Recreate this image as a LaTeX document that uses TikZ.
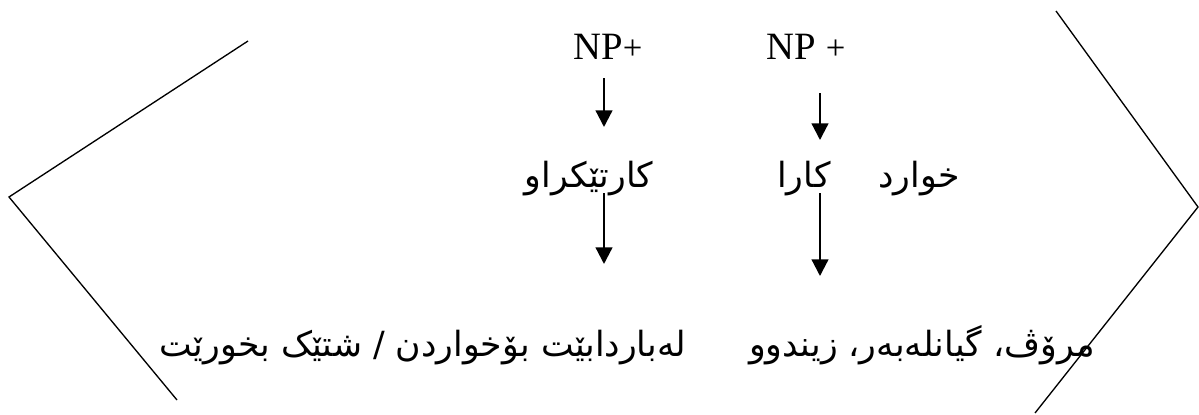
\documentclass[tikz,border=0pt]{standalone}
\usepackage{fontspec}
\setmainfont{Liberation Serif}
\newfontfamily\kurdFont[Script=Arabic]{DejaVu Sans}
\TeXXeTstate=1
\usetikzlibrary{arrows.meta}
\tikzstyle{pixelGrid} = [x = 0.75pt, y = -0.75pt]
\tikzstyle{bracketLine} = [color=black, line width=1pt]
\tikzstyle{downArrow} = [color=black, line width=1.7pt, -{Triangle[width=12.5pt, length=12.5pt]}]
\tikzstyle{npText} = [font=\fontsize{29}{31}\selectfont, inner sep=0pt]
\tikzstyle{kurdText} = [font=\kurdFont\fontsize{26}{29}\selectfont, inner sep=0pt, anchor=base]
\newcommand{\smallPlus}{{\fontsize{26}{26}\selectfont +}}
\newcommand{\kurd}[1]{\beginR #1\endR}

\begin{document}
\begin{tikzpicture}[pixelGrid]
  \useasboundingbox (0,0) rectangle (1199,414);

  % brackets
  \draw [bracketLine] (248,41) -- (9,197) -- (177,400);
  \draw [bracketLine] (1056,11) -- (1198,207) -- (1035,413);

  % top row
  \node [npText] (npLeft) at (608,47) {NP\smallPlus};
  \node [npText] (npRight) at (806,47) {NP \smallPlus};

  % middle row
  \node [kurdText] (patient) at (589,187) {\kurd{کارتێکراو}};
  \node [kurdText] (agent) at (804,187) {\kurd{کارا}};
  \node [kurdText] (eat) at (919,187) {\kurd{خوارد}};

  % bottom row
  \node [kurdText] (edible) at (423,356) {\kurd{لەباردابێت بۆخواردن / شتێک بخورێت}};
  \node [kurdText] (living) at (922,356) {\kurd{مرۆڤ، گیانلەبەر، زیندوو}};

  % arrow ends
  \coordinate (npLeftFoot) at (604,78);
  \coordinate (patientHead) at (604,127);
  \coordinate (npRightFoot) at (820,93);
  \coordinate (agentHead) at (820,140);
  \coordinate (patientFoot) at (604,193);
  \coordinate (edibleHead) at (604,264);
  \coordinate (agentFoot) at (820,193);
  \coordinate (livingHead) at (820,276);

  \draw [downArrow] (npLeftFoot) -- (patientHead);
  \draw [downArrow] (npRightFoot) -- (agentHead);
  \draw [downArrow] (patientFoot) -- (edibleHead);
  \draw [downArrow] (agentFoot) -- (livingHead);
\end{tikzpicture}
\end{document}
